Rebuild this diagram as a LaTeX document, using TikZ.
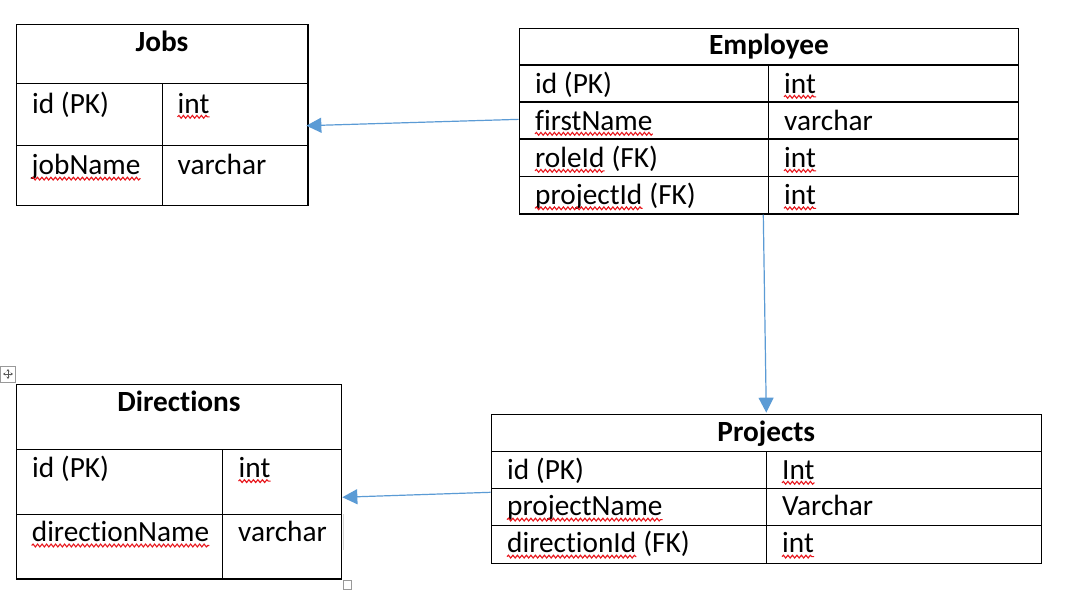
\documentclass[tikz,border=0pt]{standalone}
\usepackage{fontspec}
\setmainfont{Carlito}[Ligatures=NoCommon]
\usetikzlibrary{arrows.meta,decorations.pathmorphing}
\definecolor{relblue}{HTML}{5B9BD5}
\definecolor{squigred}{HTML}{E8141A}
\newcommand\tblfont{\fontsize{29.3}{35}\selectfont}
\newcommand\tblhfont{\fontsize{29.3}{35}\selectfont\bfseries}
\tikzset{
  frame/.style={draw=black, line width=1.3pt, inner sep=0pt, rectangle},
  grid/.style={draw=black, line width=1.3pt},
  cell/.style={anchor=base west, inner sep=0pt, font=\tblfont, text=black},
  hdr/.style={anchor=base, inner sep=0pt, font=\tblhfont, text=black},
  sq/.style={draw=squigred, line width=1.1pt, decorate,
    decoration={snake, segment length=4.5pt, amplitude=1.4pt}},
  rel/.style={draw=relblue, line width=1.2pt, -{Triangle[length=15pt,width=15pt,fill=relblue]}},
  handle/.style={draw=black!40, line width=0.8pt},
}
\newcommand\sqword[3]{%
  \node[cell] (#1) at (#2) {#3};
  \draw[sq] ([yshift=-3.8pt]#1.base west) -- ([yshift=-3.8pt]#1.base east);
}
\begin{document}
\begin{tikzpicture}[x=1pt,y=-1pt]
\useasboundingbox[fill=white] (0,0) rectangle (1072,597);

% ---------------- Jobs ----------------
\node[frame, minimum width=291.7pt, minimum height=181.2pt] (jobs) at (162.15,115.1) {};
\draw[grid] (16.3,83.5) -- (308,83.5);
\draw[grid] (16.3,145.3) -- (308,145.3);
\draw[grid] (162.5,83.5) -- (162.5,205.7);
\node[hdr] (jobsH) at (162,51.5) {Jobs};
\node[cell] (jobs11) at (32,113) {id (PK)};
\sqword{jobs12}{177.5,113}{int}
\sqword{jobs21}{31.5,174.8}{jobName}
\node[cell] (jobs22) at (177.5,174.8) {varchar};

% ---------------- Employee ----------------
\node[frame, minimum width=499.4pt, minimum height=185.7pt] (emp) at (769,121.15) {};
\draw[grid] (519.3,65) -- (1018.7,65);
\draw[grid] (519.3,102) -- (1018.7,102);
\draw[grid] (519.3,139) -- (1018.7,139);
\draw[grid] (519.3,176.7) -- (1018.7,176.7);
\draw[grid] (768.5,65) -- (768.5,214);
\node[hdr] (empH) at (769,54.8) {Employee};
\node[cell] (emp11) at (535,93) {id (PK)};
\sqword{emp12}{784,93}{int}
\sqword{emp21}{535,130}{firstName}
\node[cell] (emp22) at (784,130) {varchar};
\sqword{emp31}{535,167}{roleId}
\node[cell] (emp31b) at (emp31.base east) {\ (FK)};
\sqword{emp32}{784,167}{int}
\sqword{emp41}{535,204.5}{projectId}
\node[cell] (emp41b) at (emp41.base east) {\ (FK)};
\sqword{emp42}{784,204.5}{int}

% ---------------- Directions ----------------
\node[frame, minimum width=325.4pt, minimum height=194.7pt] (dir) at (179,481.65) {};
\draw[grid] (16.3,449.3) -- (341.7,449.3);
\draw[grid] (16.3,514.3) -- (341.7,514.3);
\draw[grid] (222.3,449.3) -- (222.3,579);
\node[hdr] (dirH) at (179,411.5) {Directions};
\node[cell] (dir11) at (32,477.3) {id (PK)};
\sqword{dir12}{238.5,477.3}{int}
\sqword{dir21}{31.7,541.7}{directionName}
\node[cell] (dir22) at (238,541.7) {varchar};

% ---------------- Projects ----------------
\node[frame, minimum width=550pt, minimum height=149pt] (proj) at (766.3,488.8) {};
\draw[grid] (491.3,451.3) -- (1041.3,451.3);
\draw[grid] (491.3,488.3) -- (1041.3,488.3);
\draw[grid] (491.3,525.3) -- (1041.3,525.3);
\draw[grid] (766.8,451.3) -- (766.8,563.3);
\node[hdr] (projH) at (766.3,441.3) {Projects};
\node[cell] (proj11) at (507,479) {id (PK)};
\sqword{proj12}{782,479}{Int}
\sqword{proj21}{507,515.8}{projectName}
\node[cell] (proj22) at (782,515.8) {Varchar};
\sqword{proj31}{507,552.8}{directionId}
\node[cell] (proj31b) at (proj31.base east) {\ (FK)};
\sqword{proj32}{782,552.8}{int}

% ---------------- relations ----------------
\draw[rel] ([yshift=1.8pt]emp.west) -- ([xshift=-2.3pt,yshift=-10.6pt]jobs.east);
\draw[rel] ([xshift=-5.7pt]emp.south) -- ([yshift=1pt]proj.north);
\draw[rel] ([yshift=-3.5pt]proj.west) -- ([yshift=-15.6pt]dir.east);

% ---------------- table handles ----------------
\draw[handle] (0.5,366) rectangle (15.5,382);
\draw[black!65, line width=0.8pt, {Stealth[length=2.5pt,width=3.2pt]}-{Stealth[length=2.5pt,width=3.2pt]}] (3,374) -- (13,374);
\draw[black!65, line width=0.8pt, {Stealth[length=2.5pt,width=3.2pt]}-{Stealth[length=2.5pt,width=3.2pt]}] (8,369) -- (8,379);
\draw[handle] (343,580.7) rectangle (351.7,589.7);
\draw[black!15, line width=0.8pt] (343.3,514.3) -- (343.3,550);
\end{tikzpicture}
\end{document}
